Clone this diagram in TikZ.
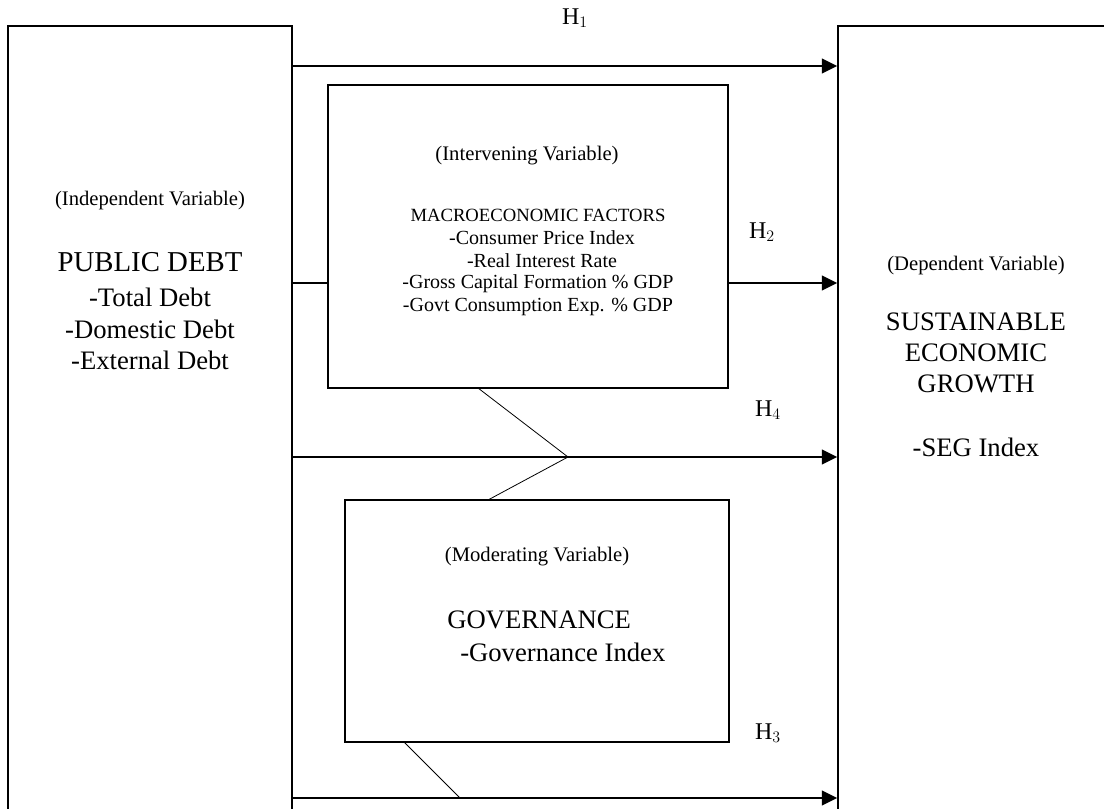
\documentclass[tikz,border=0pt]{standalone}
\usepackage{fontspec}
\setmainfont{Liberation Serif}
\usetikzlibrary{arrows.meta}
\newcommand{\fs}[1]{\fontsize{#1}{1.15\dimexpr#1\relax}\selectfont}
\tikzset{
  boxx/.style={draw, line width=1.15pt, rectangle, inner sep=0pt},
  arr/.style={line width=1.5pt, -{Triangle[length=11.5pt,width=11pt]}},
  plain/.style={line width=1.5pt},
  thinline/.style={line width=0.6pt},
  txt/.style={inner sep=0pt, align=center},
  lab/.style={txt, font=\fs{15.5pt}},
  big/.style={txt, font=\fs{20pt}},
  title/.style={txt, font=\fs{21.6pt}},
  mtxt/.style={txt, font=\fs{15pt}},
  mtitle/.style={txt, font=\fs{14pt}},
  hlab/.style={inner sep=0pt, font=\fs{18pt}},
}
\begin{document}
\begin{tikzpicture}[x=0.75pt, y=-0.75pt]
\useasboundingbox (0,0) rectangle (1104,809);
\clip (0,0) rectangle (1104,809);
% boxes
\node[boxx, minimum width=213pt, minimum height=603pt] (left) at (150,428) {};
\node[boxx, minimum width=211.5pt, minimum height=603pt] (right) at (979,428) {};
\node[boxx, minimum width=300pt, minimum height=227.25pt] (macro) at (528,236.5) {};
\node[boxx, minimum width=288pt, minimum height=181.5pt] (gov) at (537,621) {};
% left text
\node[lab] (indep) at (150,201) {(Independent Variable)};
\node[title] (pd) at (150,262) {PUBLIC DEBT};
\node[big] (td) at (150,297) {-Total Debt};
\node[big] (dd) at (150,329) {-Domestic Debt};
\node[big] (ed) at (150,360) {-External Debt};
% macro text
\node[lab] (interv) at (527,156) {(Intervening Variable)};
\node[mtitle] (mf) at (538,215) {MACROECONOMIC FACTORS};
\node[mtxt] (cpi) at (542,238) {-Consumer Price Index};
\node[mtxt] (rir) at (542,261) {-Real Interest Rate};
\node[mtxt] (gcf) at (538,284) {-Gross Capital Formation \% GDP};
\node[mtxt] (gce) at (538,307) {-Govt Consumption Exp. \% GDP};
% right text
\node[lab] (dep) at (976,266) {(Dependent Variable)};
\node[big] (seg) at (976,353) {SUSTAINABLE\\ECONOMIC\\GROWTH};
\node[big] (segi) at (976,447) {-SEG Index};
% governance text
\node[lab] (mod) at (537,557) {(Moderating Variable)};
\node[big, anchor=west] (gv) at (447,620) {GOVERNANCE};
\node[big, anchor=west] (gvi) at (460,652) {-Governance Index};
% hypothesis labels
\node[hlab] (h1) at (575,18) {H$_1$};
\node[hlab] (h2) at (762,232) {H$_2$};
\node[hlab] (h4) at (768,410) {H$_4$};
\node[hlab] (h3) at (768,733) {H$_3$};
% arrow levels
\coordinate (y1) at (0,66);
\coordinate (y2) at (0,283);
\coordinate (y4) at (0,457);
\coordinate (y3) at (0,798);
\draw[arr] (left.east |- y1) -- (right.west |- y1);
\draw[plain] (left.east |- y2) -- (macro.west |- y2);
\draw[arr] (macro.east |- y2) -- (right.west |- y2);
\draw[arr] (left.east |- y4) -- (right.west |- y4);
\draw[arr] (left.east |- y3) -- (right.west |- y3);
% zigzag connectors
\coordinate (za) at (478,388);
\coordinate (zb) at (568,457);
\coordinate (zc) at (488,500);
\draw[thinline] (za) -- (zb) -- (zc);
\coordinate (zd) at (404,742);
\coordinate (ze) at (460,798);
\draw[thinline] (zd) -- (ze);
\end{tikzpicture}
\end{document}
